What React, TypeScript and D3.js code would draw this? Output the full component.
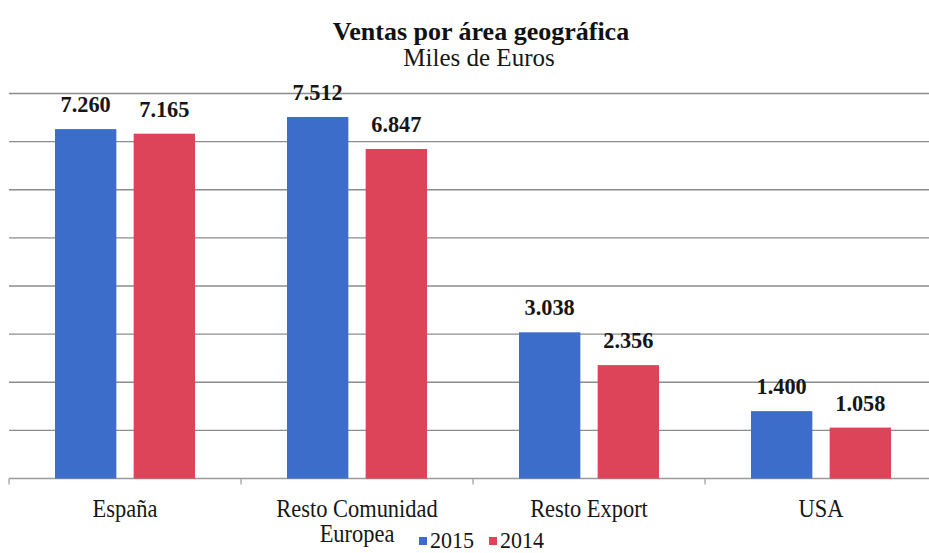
import React from "react";
import * as d3 from "d3";

const categories = ["España", "Resto Comunidad Europea", "Resto Export", "USA"];
const categoryLines = [["España"], ["Resto Comunidad", "Europea"], ["Resto Export"], ["USA"]];
const seriesNames = ["2015", "2014"];
const values2015 = [7260, 7512, 3038, 1400];
const values2014 = [7165, 6847, 2356, 1058];
const valueLabels2015 = ["7.260", "7.512", "3.038", "1.400"];
const valueLabels2014 = ["7.165", "6.847", "2.356", "1.058"];
const gridTicks = [0, 1000, 2000, 3000, 4000, 5000, 6000, 7000, 8000];

const W = 929;
const H = 553;
const colors = ["#3d6dca", "#dd4459"];
const font = "Liberation Serif, Times New Roman, serif";
const squeeze = 0.88;

export default function App() {
  const left = 9;
  const right = 937;
  const top = 93.5;
  const bottom = 478.5;

  const x = d3.scaleBand<string>().domain(categories).range([left, right]).paddingInner(0).paddingOuter(0);
  const y = d3.scaleLinear().domain([0, 8000]).range([bottom, top]);
  const bw = x.bandwidth();
  const inner = d3.scaleBand<string>().domain(seriesNames).range([bw / 2 - 70, bw / 2 + 70]).paddingInner(0.22);

  const series = [
    { name: seriesNames[0], values: values2015, labels: valueLabels2015 },
    { name: seriesNames[1], values: values2014, labels: valueLabels2014 },
  ];

  return (
    <svg width={W} height={H} style={{ position: "absolute", left: 0, top: 0, background: "#fff", fontFamily: font }}>
      <rect x={0} y={0} width={W} height={H} fill="#fff" />
      <text x={481} y={40} textAnchor="middle" fontWeight="bold" fontSize={26} fill="#111">
        Ventas por área geográfica
      </text>
      <text x={479} y={66} textAnchor="middle" fontSize={25} fill="#161616">
        Miles de Euros
      </text>
      {gridTicks.map((t) => (
        <line key={t} x1={left} x2={right} y1={y(t)} y2={y(t)} stroke={t === 0 ? "#9a9a9a" : "#8c8c8c"} strokeWidth={1.4} />
      ))}
      {categories.map((c, i) => (
        <line key={"tk" + i} x1={x(c)!} x2={x(c)!} y1={bottom} y2={bottom + 6} stroke="#9a9a9a" strokeWidth={1.2} />
      ))}
      {series.map((s, si) =>
        categories.map((c, i) => {
          const bx = x(c)! + inner(s.name)!;
          const v = s.values[i];
          return (
            <g key={s.name + c}>
              <rect x={bx} y={y(v)} width={inner.bandwidth()} height={bottom - y(v)} fill={colors[si]} />
              <g transform={`translate(${bx + inner.bandwidth() / 2},${y(v) - 17}) scale(0.95,1)`}>
                <text x={0} y={0} textAnchor="middle" fontWeight="bold" fontSize={23.5} fill="#161616">
                  {s.labels[i]}
                </text>
              </g>
            </g>
          );
        })
      )}
      {categories.map((c, i) => (
        <g key={"xl" + i} transform={`translate(${x(c)! + bw / 2},517) scale(${squeeze},1)`}>
          <text x={0} y={0} textAnchor="middle" fontSize={25.5} fill="#161616">
            {categoryLines[i].map((ln, li) => (
              <tspan key={li} x={0} dy={li === 0 ? 0 : 25}>
                {ln}
              </tspan>
            ))}
          </text>
        </g>
      ))}
      <g>
        <rect x={419} y={537} width={8} height={8} fill={colors[0]} />
        <g transform={`translate(430,548) scale(0.92,1)`}>
          <text x={0} y={0} fontSize={24} fill="#161616">{seriesNames[0]}</text>
        </g>
        <rect x={489} y={537} width={8} height={8} fill={colors[1]} />
        <g transform={`translate(500,548) scale(0.92,1)`}>
          <text x={0} y={0} fontSize={24} fill="#161616">{seriesNames[1]}</text>
        </g>
      </g>
    </svg>
  );
}
